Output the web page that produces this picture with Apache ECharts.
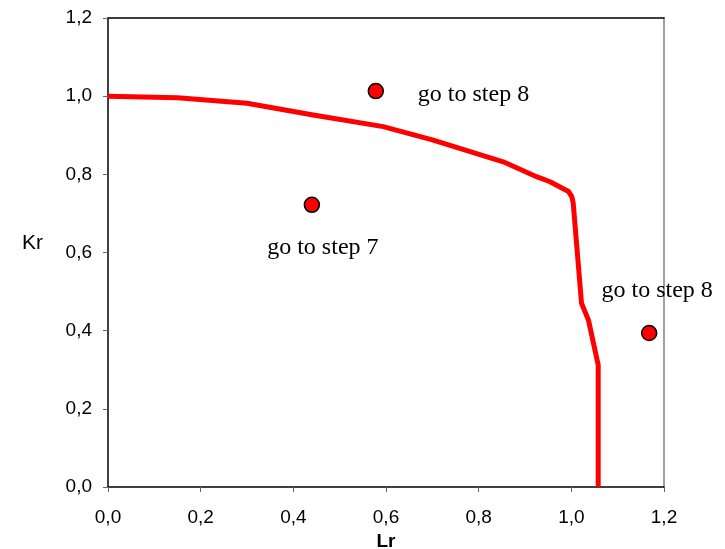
<!DOCTYPE html>
<html>
<head>
<meta charset="utf-8">
<script src="https://cdn.jsdelivr.net/npm/echarts@6/dist/echarts.min.js"></script>
<style>
  html, body { margin: 0; padding: 0; background: #fff; }
  #chart { width: 725px; height: 549px; }
</style>
</head>
<body>
<div id="chart"></div>
<script>
// Boundary curve (Lr, Kr)
const curveLr = [0, 0.15, 0.30, 0.443, 0.594, 0.70, 0.853, 0.925, 0.954, 0.994, 1.001, 1.004, 1.022, 1.037, 1.058, 1.058];
const curveKr = [1.0, 0.996, 0.982, 0.952, 0.922, 0.888, 0.832, 0.794, 0.781, 0.756, 0.743, 0.727, 0.470, 0.427, 0.312, 0.0];

// Assessment points and their notes
const pointLr = [0.578, 0.440, 1.168];
const pointKr = [1.013, 0.722, 0.394];
const pointNotes = ['go to step 8', 'go to step 7', 'go to step 8'];

// Axis ticks
const tickValues = [0.0, 0.2, 0.4, 0.6, 0.8, 1.0, 1.2];

const fmt = v => v.toFixed(1).replace('.', ',');

const noteLayouts = [
  { align: 'left', offset: [42, 4] },
  { align: 'center', offset: [11, 43] },
  { align: 'center', offset: [8, -42] }
];

const chart = echarts.init(document.getElementById('chart'), null, { renderer: 'canvas' });

const axisBase = {
  type: 'value',
  min: tickValues[0],
  max: tickValues[tickValues.length - 1],
  interval: 0.2,
  splitLine: { show: false },
  axisLine: { show: true, onZero: false, lineStyle: { color: '#000', width: 1.5 } },
  axisTick: { show: true, inside: false, length: 5, lineStyle: { color: '#666', width: 1 } },
  axisLabel: {
    formatter: fmt,
    color: '#000',
    fontFamily: 'Liberation Sans, Arial, sans-serif',
    fontSize: 19
  }
};

chart.setOption({
  animation: false,
  backgroundColor: '#fff',
  grid: { left: 108, right: 61, top: 18, bottom: 62, containLabel: false, outerBoundsMode: 'none' },
  xAxis: [
    Object.assign({}, axisBase, {
      position: 'bottom',
      name: 'Lr',
      nameLocation: 'middle',
      nameGap: 42,
      nameTextStyle: { color: '#000', fontFamily: 'Liberation Sans, Arial, sans-serif', fontSize: 19, fontWeight: 'bold' },
      axisLabel: Object.assign({}, axisBase.axisLabel, { margin: 21 })
    }),
    {
      type: 'value', position: 'top', min: 0, max: 1.2,
      axisLine: { show: true, onZero: false, lineStyle: { color: '#000', width: 1.5 } },
      axisTick: { show: false }, axisLabel: { show: false }, splitLine: { show: false }
    }
  ],
  yAxis: [
    Object.assign({}, axisBase, {
      position: 'left',
      name: 'Kr',
      nameLocation: 'middle',
      nameRotate: 0,
      nameGap: 65,
      nameTextStyle: { color: '#000', fontFamily: 'Liberation Sans, Arial, sans-serif', fontSize: 21, verticalAlign: 'bottom', lineHeight: 19 },
      axisLabel: Object.assign({}, axisBase.axisLabel, { margin: 16 })
    }),
    {
      type: 'value', position: 'right', min: 0, max: 1.2,
      axisLine: { show: true, onZero: false, lineStyle: { color: '#808080', width: 1.5 } },
      axisTick: { show: false }, axisLabel: { show: false }, splitLine: { show: false }
    }
  ],
  series: [
    {
      name: 'curve',
      type: 'line',
      xAxisIndex: 0,
      yAxisIndex: 0,
      data: curveLr.map((x, i) => [x, curveKr[i]]),
      showSymbol: false,
      symbol: 'none',
      lineStyle: { color: '#ff0000', width: 5, cap: 'butt', join: 'round' },
      z: 3
    },
    {
      name: 'points',
      type: 'scatter',
      xAxisIndex: 0,
      yAxisIndex: 0,
      symbol: 'circle',
      symbolSize: 15,
      itemStyle: { color: '#ff0000', borderColor: '#000', borderWidth: 1.5, opacity: 1 },
      data: pointLr.map((x, i) => ({
        value: [x, pointKr[i]],
        label: {
          show: true,
          position: 'inside',
          formatter: pointNotes[i],
          align: noteLayouts[i].align,
          verticalAlign: 'middle',
          offset: noteLayouts[i].offset,
          color: '#000',
          fontFamily: 'Liberation Serif, Times New Roman, serif',
          fontSize: 24
        }
      })),
      z: 4
    }
  ]
});
</script>
</body>
</html>
